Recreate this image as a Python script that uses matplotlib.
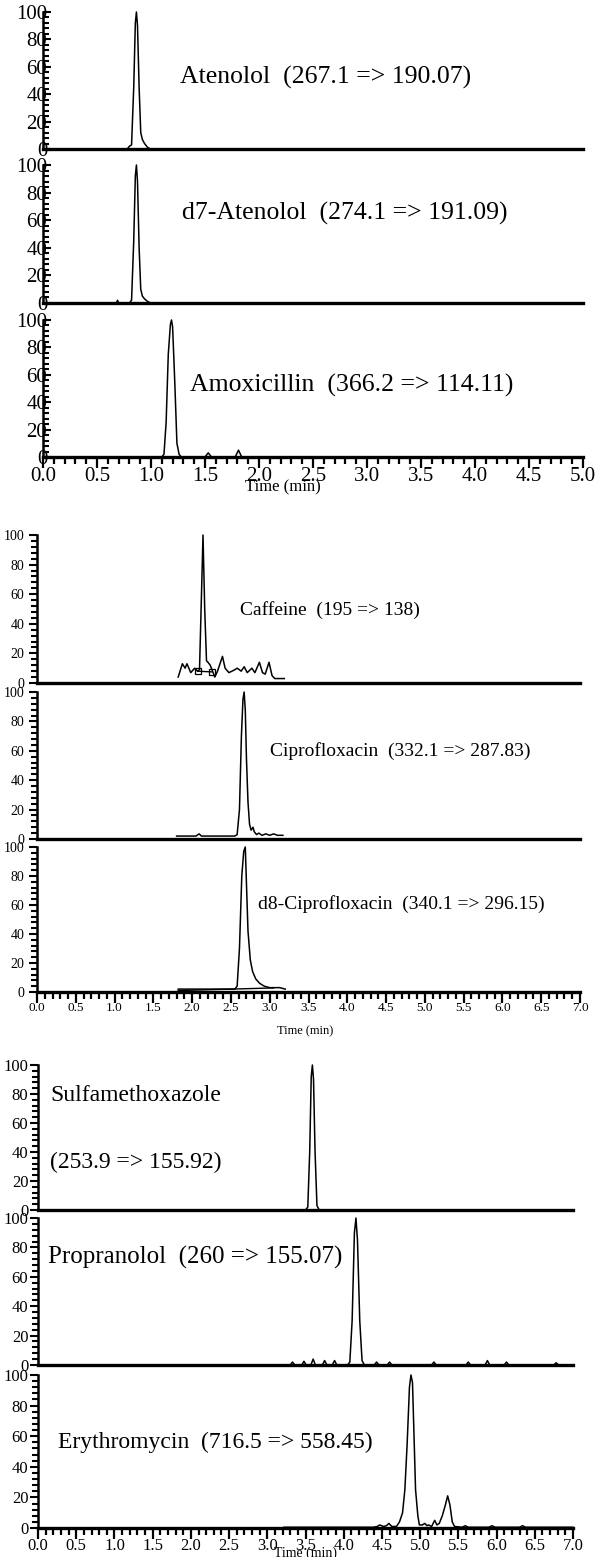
import matplotlib
matplotlib.use("Agg")
import matplotlib.pyplot as plt
from matplotlib.ticker import MultipleLocator

plt.rcParams['font.family'] = ['Liberation Serif', 'DejaVu Serif']

W, H = 595, 1557

# --- chromatogram traces: retention time (min) and relative intensity (%) ---
aten_t = [0.0, 0.78, 0.80, 0.82, 0.84, 0.855, 0.865, 0.875, 0.89, 0.905, 0.92, 0.94, 0.97, 1.0, 5.0]
aten_i = [0, 0, 2, 3, 45, 92, 100, 90, 45, 12, 7, 4, 1, 0, 0]

d7aten_t = [0.0, 0.68, 0.69, 0.70, 0.80, 0.82, 0.84, 0.855, 0.865, 0.875, 0.89, 0.905, 0.92, 0.94, 0.97, 1.0, 5.0]
d7aten_i = [0, 0, 2, 0, 0, 2, 45, 92, 100, 88, 40, 10, 5, 3, 1, 0, 0]

amox_t = [0.0, 1.10, 1.12, 1.14, 1.16, 1.18, 1.19, 1.20, 1.22, 1.24, 1.26, 1.28,
          1.50, 1.53, 1.56, 1.78, 1.81, 1.84, 5.0]
amox_i = [0, 0, 2, 25, 75, 97, 100, 95, 55, 10, 2, 0, 0, 3, 0, 0, 5, 0, 0]

caff_t = [1.82, 1.874, 1.909, 1.933, 1.982, 2.032, 2.07, 2.095, 2.118, 2.140, 2.162, 2.185,
          2.204, 2.233, 2.263, 2.292, 2.327, 2.391, 2.425, 2.474, 2.533, 2.582, 2.632,
          2.671, 2.710, 2.770, 2.809, 2.867, 2.907, 2.942, 2.991, 3.030, 3.065, 3.114, 3.188]
caff_i = [4, 13, 10, 13, 7, 10, 8, 9, 55, 100, 50, 15, 14, 12, 8, 4, 8, 18, 10, 7, 8.5,
          10, 8, 11, 7, 10, 7, 14, 7, 6, 14, 5, 3, 3, 3]
caff_base_t = [2.07, 2.25]
caff_base_i = [8, 7.5]

cipro_t = [1.80, 2.05, 2.09, 2.12, 2.55, 2.58, 2.61, 2.635, 2.655, 2.67, 2.685, 2.70, 2.72,
           2.74, 2.76, 2.785, 2.80, 2.83, 2.86, 2.90, 2.95, 3.00, 3.05, 3.10, 3.17]
cipro_i = [2, 2, 3.5, 2, 2, 3, 20, 70, 95, 100, 88, 55, 25, 10, 6, 8, 5, 3, 4, 2.5, 3.5,
           2.5, 3.5, 2.5, 2.5]

d8cipro_t = [1.82, 2.40, 2.55, 2.58, 2.61, 2.64, 2.665, 2.685, 2.70, 2.72, 2.75, 2.78,
             2.82, 2.87, 2.93, 3.00, 3.07, 3.13, 3.20]
d8cipro_i = [2, 2, 2, 4, 30, 80, 97, 100, 75, 42, 22, 14, 9, 6, 4, 3, 3, 3, 2]
d8cipro_base_t = [1.82, 3.05]
d8cipro_base_i = [1.0, 2.8]

sulfa_t = [3.20, 3.50, 3.53, 3.555, 3.575, 3.59, 3.605, 3.625, 3.65, 3.68, 4.90]
sulfa_i = [0, 0, 2, 40, 92, 100, 90, 40, 3, 0, 0]

prop_t = [3.20, 3.30, 3.33, 3.36, 3.45, 3.48, 3.51, 3.57, 3.60, 3.63, 3.72, 3.75, 3.78,
          3.85, 3.88, 3.91, 4.05, 4.08, 4.11, 4.14, 4.16, 4.18, 4.21, 4.24, 4.27, 4.40,
          4.43, 4.46, 4.57, 4.60, 4.63, 5.15, 5.18, 5.21, 5.60, 5.63, 5.66, 5.85, 5.88,
          5.91, 6.10, 6.13, 6.16, 6.75, 6.78, 6.81, 7.0]
prop_i = [0, 0, 2, 0, 0, 2.5, 0, 0, 4, 0, 0, 3, 0, 0, 3, 0, 0, 2, 30, 90, 100, 85, 30, 3,
          0, 0, 2, 0, 0, 2, 0, 0, 2, 0, 0, 2, 0, 0, 3, 0, 0, 2, 0, 0, 1.5, 0, 0]

ery_t = [3.22, 4.39, 4.44, 4.47, 4.52, 4.56, 4.59, 4.63, 4.69, 4.73, 4.77, 4.80, 4.83,
         4.86, 4.88, 4.90, 4.92, 4.94, 4.97, 4.99, 5.03, 5.06, 5.09, 5.11, 5.15, 5.19,
         5.22, 5.25, 5.29, 5.33, 5.36, 5.39, 5.42, 5.45, 5.55, 5.59, 5.63, 5.90, 5.94,
         5.98, 6.30, 6.34, 6.38, 7.0]
ery_i = [0.5, 0.5, 1, 2, 1, 1.5, 3, 1, 1, 4, 10, 25, 55, 92, 100, 95, 60, 25, 8, 2, 2,
         3, 1.5, 2, 1, 5, 2, 3, 8, 15, 21, 15, 4, 1, 0.5, 1.5, 0.5, 0.5, 1.5, 0.5, 0.5,
         1.5, 0.5, 0.5]

y_ticks = [0, 20, 40, 60, 80, 100]

fig = plt.figure(figsize=(W / 100, H / 100), dpi=100)


def panel(left, right, top, bottom):
    return fig.add_axes([left / W, 1 - bottom / H, (right - left) / W, (bottom - top) / H])


def style(ax, xmax, ysize, xsize, ydir, ypad, bottom_ticks):
    ax.set_xlim(0, xmax)
    ax.set_ylim(0, 100)
    ax.spines['top'].set_visible(False)
    ax.spines['right'].set_visible(False)
    ax.spines['bottom'].set_linewidth(2.4)
    ax.spines['left'].set_linewidth(1.8)
    ax.set_yticks(y_ticks)
    ax.yaxis.set_minor_locator(MultipleLocator(4))
    ax.tick_params(axis='y', which='major', direction=ydir, length=6, width=1.5,
                   labelsize=ysize, pad=ypad)
    ax.tick_params(axis='y', which='minor', direction=ydir, length=4, width=1.5)
    ax.xaxis.set_major_locator(MultipleLocator(0.5))
    ax.xaxis.set_minor_locator(MultipleLocator(0.1))
    if bottom_ticks:
        ax.xaxis.set_major_formatter(plt.FuncFormatter(lambda v, p: f"{v:.1f}"))
        ax.tick_params(axis='x', which='major', direction='out', length=8, width=1.6,
                       labelsize=xsize, pad=-1)
        ax.tick_params(axis='x', which='minor', direction='out', length=5, width=1.6)
    else:
        ax.tick_params(axis='x', which='both', bottom=False, labelbottom=False)


def trace(ax, t, i):
    ax.plot(t, i, color='black', lw=1.1, clip_on=False)


# ---------- group 1 : 0-5 min ----------
g1 = [(12, 149), (165, 303), (320, 457)]
g1_traces = [(aten_t, aten_i), (d7aten_t, d7aten_i), (amox_t, amox_i)]
g1_labels = [("Atenolol  (267.1 => 190.07)", 1.27, 52),
             ("d7-Atenolol  (274.1 => 191.09)", 1.29, 65),
             ("Amoxicillin  (366.2 => 114.11)", 1.36, 52)]
for k, ((top, bot), (t, i), (txt, tx, ty)) in enumerate(zip(g1, g1_traces, g1_labels)):
    ax = panel(43, 583, top, bot)
    style(ax, 5, 15, 15, 'in', -3, k == 2)
    trace(ax, t, i)
    ax.text(tx, ty, txt, fontsize=18.5, va='center', ha='left')
fig.text(283 / W, 1 - 487 / H, "Time (min)", fontsize=12, ha='center', va='center')

# ---------- group 2 : 0-7 min ----------
g2 = [(535, 683), (692, 839), (847, 992)]
g2_traces = [(caff_t, caff_i), (cipro_t, cipro_i), (d8cipro_t, d8cipro_i)]
g2_labels = [("Caffeine  (195 => 138)", 2.62, 49),
             ("Ciprofloxacin  (332.1 => 287.83)", 3.0, 60),
             ("d8-Ciprofloxacin  (340.1 => 296.15)", 2.85, 61)]
for k, ((top, bot), (t, i), (txt, tx, ty)) in enumerate(zip(g2, g2_traces, g2_labels)):
    ax = panel(37, 580, top, bot)
    style(ax, 7, 10, 9.5, 'out', 3, k == 2)
    trace(ax, t, i)
    ax.text(tx, ty, txt, fontsize=14, va='center', ha='left')
    if k == 0:
        ax.plot(caff_base_t, caff_base_i, color='black', lw=1.0, marker='s', ms=4,
                mfc='none', mew=0.9)
    if k == 2:
        ax.plot(d8cipro_base_t, d8cipro_base_i, color='black', lw=1.0)
fig.text(305 / W, 1 - 1031 / H, "Time (min)", fontsize=9, ha='center', va='center')

# ---------- group 3 : 0-7 min ----------
g3 = [(1065, 1210), (1218, 1365), (1375, 1528)]
g3_traces = [(sulfa_t, sulfa_i), (prop_t, prop_i), (ery_t, ery_i)]
for k, ((top, bot), (t, i)) in enumerate(zip(g3, g3_traces)):
    ax = panel(38, 573, top, bot)
    style(ax, 7, 12, 12, 'out', 1, k == 2)
    trace(ax, t, i)
    if k == 0:
        ax.text(0.16, 79, "Sulfamethoxazole", fontsize=17, va='center', ha='left')
        ax.text(0.16, 33, "(253.9 => 155.92)", fontsize=17, va='center', ha='left')
    elif k == 1:
        ax.text(0.13, 73, "Propranolol  (260 => 155.07)", fontsize=18, va='center', ha='left')
    else:
        ax.text(0.26, 56, "Erythromycin  (716.5 => 558.45)", fontsize=17, va='center', ha='left')
fig.text(305 / W, 1 - 1553 / H, "Time (min)", fontsize=10, ha='center', va='center')

fig.savefig("out.png", dpi=100)
